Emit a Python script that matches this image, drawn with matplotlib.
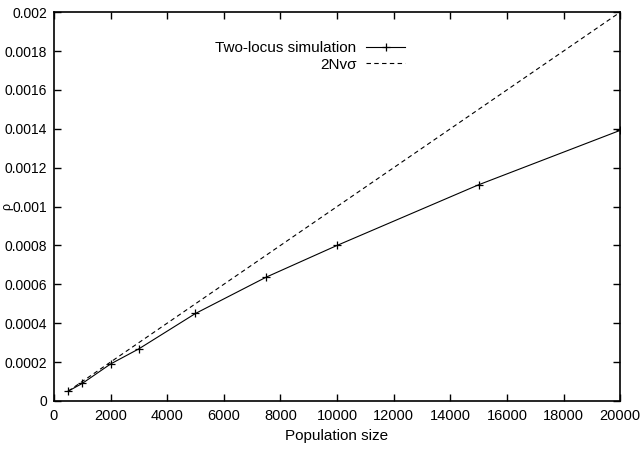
import matplotlib
matplotlib.use("Agg")
import matplotlib.pyplot as plt

plt.rcParams['font.family'] = ['Liberation Sans', 'DejaVu Sans']

pop_size = [500, 1000, 2000, 3000, 5000, 7500, 10000, 15000, 20000]
sim_rho = [0.00005, 0.00009, 0.00019, 0.000268, 0.000450, 0.000637, 0.000800, 0.001112, 0.001392]
theory_x = [500, 20000]
theory_rho = [0.00005, 0.002]

W, H = 642, 451
fig = plt.figure(figsize=(W / 100, H / 100), dpi=100)
ax = fig.add_axes([0.084, 0.111, 0.882, 0.862])

ax.plot(pop_size, sim_rho, color='black', lw=0.8, marker='+', markersize=6,
        markeredgewidth=0.9, label='Two-locus simulation')
ax.plot(theory_x, theory_rho, color='black', lw=0.8, linestyle=(0, (4, 3)),
        label='2Nv\u03c3')

ax.set_xlim(0, 20000)
ax.set_ylim(0, 0.002)
ax.set_xticks(range(0, 20001, 2000))
yt = [i * 0.0002 for i in range(11)]
ax.set_yticks(yt)
ax.set_yticklabels(['0', '0.0002', '0.0004', '0.0006', '0.0008', '0.001',
                    '0.0012', '0.0014', '0.0016', '0.0018', '0.002'])
ax.tick_params(axis='y', direction='in', right=True, length=5, width=1,
               labelsize=10, pad=5)
ax.tick_params(axis='x', direction='in', top=True, length=5, width=1,
               labelsize=10.5, pad=6)
for s in ax.spines.values():
    s.set_linewidth(1.2)

ax.set_xlabel('Population size', fontsize=11, labelpad=4)
fig.text(7 / W, 1 - 207 / H, '\u03c1', fontsize=9, rotation=90,
         ha='center', va='center')

leg = ax.legend(loc='upper right', bbox_to_anchor=(0.645, 0.96), frameon=False,
                markerfirst=False, fontsize=11, handlelength=2.6,
                handletextpad=0.6, labelspacing=0.15)
for t in leg.get_texts():
    t.set_ha('right')
leg._legend_box.align = 'right'

fig.savefig('out.png', dpi=100)
